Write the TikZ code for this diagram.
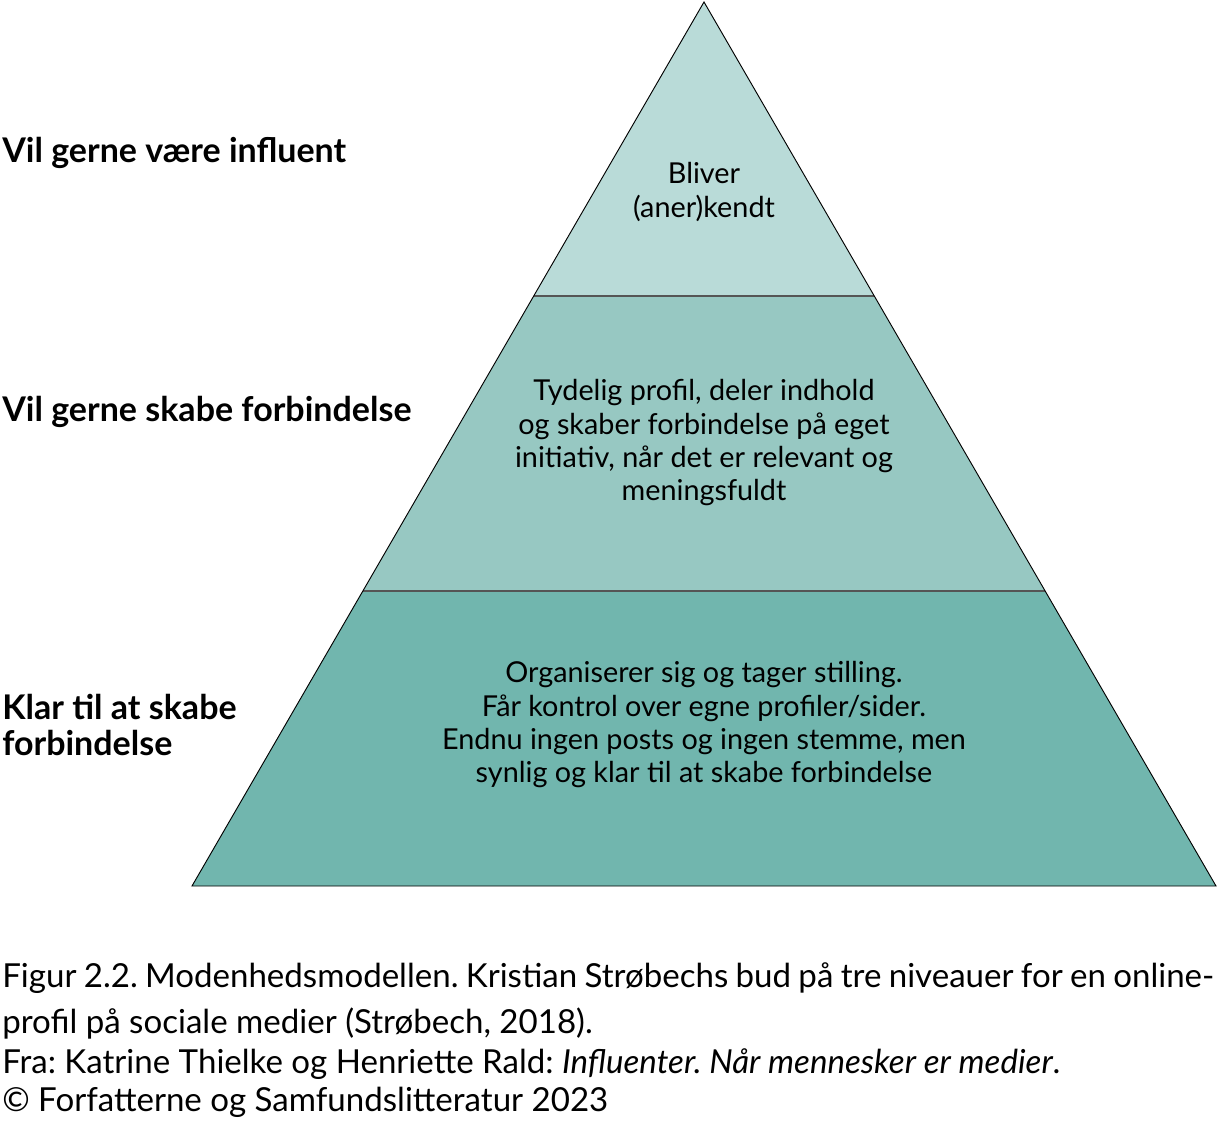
\documentclass[tikz,border=0pt]{standalone}
\usepackage{fontspec}
\setmainfont{Lato}
\usetikzlibrary{positioning}
\definecolor{tiertop}{HTML}{B9DBD8}
\definecolor{tiermid}{HTML}{97C8C2}
\definecolor{tierbase}{HTML}{71B6AE}
\definecolor{tierline}{HTML}{555555}
\frenchspacing
\tikzset{
  tiertext/.style={align=center, font=\fontsize{21.6}{25}\selectfont},
  levellabel/.style={anchor=west, align=left, inner sep=0pt, font=\fontsize{25.5}{27}\selectfont\bfseries},
  captionline/.style={anchor=base west, inner sep=0pt, font=\fontsize{24.8}{28}\selectfont}
}
\begin{document}
\begin{tikzpicture}[x=0.75pt,y=-0.75pt]
\useasboundingbox (0,0) rectangle (1217,1121);
\coordinate (apex) at (704,2);
\coordinate (bl) at (192,886);
\coordinate (br) at (1216,886);
\coordinate (ml) at (363,591);
\coordinate (mr) at (1045,591);
\coordinate (tl) at (534,296);
\coordinate (tr) at (874,296);
\fill[tierbase] (bl) -- (br) -- (mr) -- (ml) -- cycle;
\fill[tiermid] (ml) -- (mr) -- (tr) -- (tl) -- cycle;
\fill[tiertop] (tl) -- (tr) -- (apex) -- cycle;
\draw[tierline, line width=0.9pt] (ml) -- (mr);
\draw[tierline, line width=0.9pt] (tl) -- (tr);
\draw[line width=0.7pt] (apex) -- (bl) -- (br) -- cycle;
% text in the tiers
\node[tiertext] (toptext) at (704,192) {Bliver\\(aner)kendt};
\node[tiertext] (midtext) at (704,443) {Tydelig profil, deler indhold\\og skaber forbindelse på eget\\initiativ, når det er relevant og\\meningsfuldt};
\node[tiertext] (basetext) at (704,725) {Organiserer sig og tager stilling.\\Får kontrol over egne profiler/sider.\\Endnu ingen posts og ingen stemme, men\\synlig og klar til at skabe forbindelse};
% level labels
\node[levellabel] (toplabel) at (2,153) {Vil gerne være influent};
\node[levellabel] (midlabel) at (2,412) {Vil gerne skabe forbindelse};
\node[levellabel] (baselabel) at (2,725) {Klar til at skabe\\forbindelse};
% caption
\node[captionline] (cap1) at (2,987) {\makebox[909pt][s]{Figur 2.2. Modenhedsmodellen. Kristian Strøbechs bud på tre niveauer for en online-}};
\node[captionline] (cap2) at (2,1033) {profil på sociale medier (Strøbech, 2018).};
\node[captionline] (cap3) at (2,1073) {Fra: Katrine Thielke og Henriette Rald: \textit{Influenter. Når mennesker er medier}.};
\node[captionline] (cap4) at (2,1111) {© Forfatterne og Samfundslitteratur 2023};
\end{tikzpicture}
\end{document}
